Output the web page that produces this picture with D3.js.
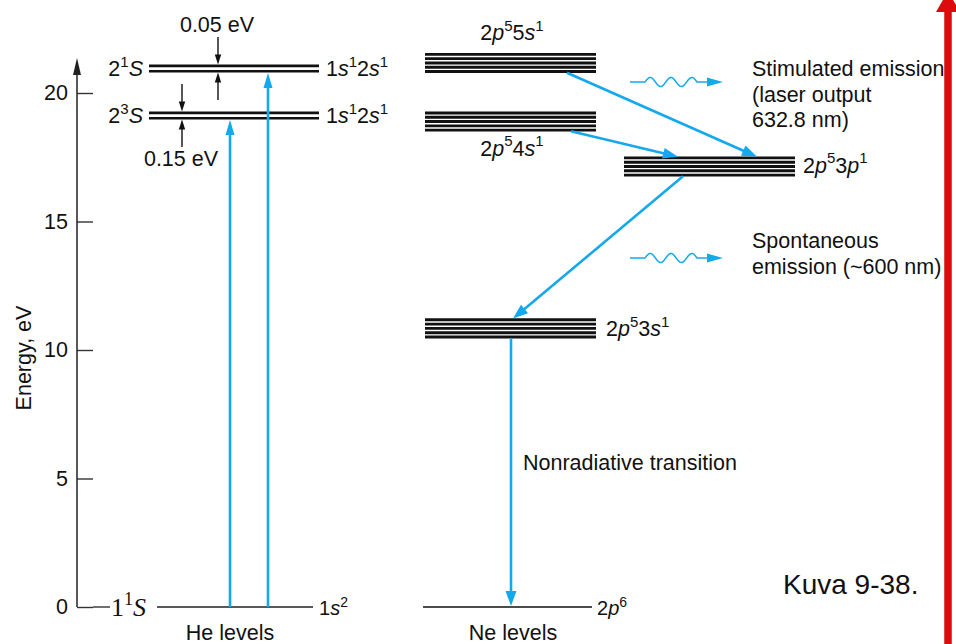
<!DOCTYPE html>
<html>
<head>
<meta charset="utf-8">
<script src="https://cdn.jsdelivr.net/npm/d3@7"></script>
<style>
  html, body { margin: 0; padding: 0; background: #fff; }
  svg { display: block; }
</style>
</head>
<body>
<svg id="chart" width="956" height="644"></svg>
<script>
// ---------------- data ----------------
const energyTicks = [0, 5, 10, 15, 20];
const heStates    = ["1<sup>1</sup><i>S</i>", "2<sup>3</sup><i>S</i>", "2<sup>1</sup><i>S</i>"];
const heConfigs   = ["1<i>s</i><sup>2</sup>", "1<i>s</i><sup>1</sup>2<i>s</i><sup>1</sup>", "1<i>s</i><sup>1</sup>2<i>s</i><sup>1</sup>"];
const heEnergies  = [0, 19.12, 20.95];
const neConfigs   = ["2<i>p</i><sup>6</sup>", "2<i>p</i><sup>5</sup>3<i>s</i><sup>1</sup>", "2<i>p</i><sup>5</sup>3<i>p</i><sup>1</sup>",
                     "2<i>p</i><sup>5</sup>4<i>s</i><sup>1</sup>", "2<i>p</i><sup>5</sup>5<i>s</i><sup>1</sup>"];
const neEnergies  = [0, 10.84, 17.14, 18.89, 21.17];
const hePumping   = [[0, 1], [0, 2]];               // indices into He levels
const neTransitions = [[4, 2], [3, 2], [2, 1], [1, 0]]; // indices into Ne levels
const gapLabels   = ["0.05 eV", "0.15 eV"];
const emissionTexts = [["Stimulated emission", "(laser output", "632.8 nm)"],
                       ["Spontaneous", "emission (~600 nm)"]];
const footerTexts = ["He levels", "Ne levels"];
const captionText = "Kuva 9-38.";
const axisTitle = "Energy, eV";
const nonradText = "Nonradiative transition";

// ---------------- layout ----------------
const svg = d3.select("#chart");
const SANS = "'Liberation Sans', Arial, Helvetica, sans-serif";
const SERIF = "'Liberation Serif', 'Times New Roman', serif";
const FS = 21.5;
const BLUE = "#14a9ec";
const y = d3.scaleLinear().domain([0, 20]).range([607, 93]);
const axisX = 77;

function rich(sel, str, size) {
  const tokens = str.match(/<sup>.*?<\/sup>|<i>.*?<\/i>|[^<]+/g);
  let raised = false;
  const shift = size * 0.42;
  tokens.forEach(t => {
    const ts = sel.append("tspan");
    if (t.startsWith("<sup>")) {
      ts.text(t.slice(5, -6)).attr("font-size", size * 0.7).attr("dy", -shift);
      raised = true;
    } else {
      if (raised) { ts.attr("dy", shift); raised = false; }
      if (t.startsWith("<i>")) ts.text(t.slice(3, -4)).attr("font-style", "italic");
      else ts.text(t);
    }
  });
  return sel;
}
function label(x, yb, str, opts = {}) {
  const t = svg.append("text").attr("x", x).attr("y", yb)
    .attr("font-family", opts.family || SANS)
    .attr("font-size", opts.size || FS)
    .attr("fill", "#111")
    .attr("text-anchor", opts.anchor || "start");
  return rich(t, str, opts.size || FS);
}
function arrow(x1, y1, x2, y2, color, w, hl, hw) {
  const dx = x2 - x1, dy = y2 - y1, L = Math.hypot(dx, dy);
  const ux = dx / L, uy = dy / L;
  const bx = x2 - ux * hl, by = y2 - uy * hl;
  svg.append("line").attr("x1", x1).attr("y1", y1).attr("x2", bx + ux * 2).attr("y2", by + uy * 2)
    .attr("stroke", color).attr("stroke-width", w);
  svg.append("polygon")
    .attr("points", [[x2, y2], [bx - uy * hw, by + ux * hw], [bx + uy * hw, by - ux * hw]].map(p => p.join(",")).join(" "))
    .attr("fill", color);
}

// ---------------- axis ----------------
const axis = d3.axisLeft(y).tickValues(energyTicks).tickSizeInner(-16).tickSizeOuter(0).tickPadding(9);
const gAxis = svg.append("g").attr("transform", `translate(${axisX},0)`).call(axis);
gAxis.select(".domain").remove();
gAxis.selectAll(".tick line").attr("stroke", "#333").attr("stroke-width", 1.4);
gAxis.selectAll(".tick text").attr("font-family", SANS).attr("font-size", FS).attr("fill", "#111");
// axis line with arrow head
arrow(axisX, y(0), axisX, y(21.36), "#222", 1.5, 17, 4);
svg.append("text").attr("transform", `translate(31,${358}) rotate(-90)`)
  .attr("text-anchor", "middle").attr("font-family", SANS).attr("font-size", FS).attr("fill", "#111")
  .text(axisTitle);

// ---------------- He levels ----------------
// ground state
svg.append("line").attr("x1", axisX + 16).attr("x2", 110).attr("y1", y(heEnergies[0])).attr("y2", y(heEnergies[0]))
  .attr("stroke", "#333").attr("stroke-width", 1.4);
label(111, y(heEnergies[0]) + 9, heStates[0], { family: SERIF, size: 26 });
svg.append("line").attr("x1", 157).attr("x2", 313).attr("y1", y(heEnergies[0])).attr("y2", y(heEnergies[0]))
  .attr("stroke", "#222").attr("stroke-width", 1.4);
label(319, y(heEnergies[0]) + 8, heConfigs[0], { size: 20 });
// excited (double lines)
heEnergies.slice(1).forEach((e, i) => {
  [-2.7, 2.7].forEach(o => {
    svg.append("line").attr("x1", 149).attr("x2", 319).attr("y1", y(e) + o).attr("y2", y(e) + o)
      .attr("stroke", "#111").attr("stroke-width", 2.6);
  });
  label(143, y(e) + 7.5, heStates[i + 1], { anchor: "end" });
  label(326, y(e) + 7.5, heConfigs[i + 1]);
});
// pumping arrows
const pumpX = [230, 268];
hePumping.forEach(([a, b], i) => {
  arrow(pumpX[i], y(heEnergies[a]), pumpX[i], y(heEnergies[b]) + 4.4, BLUE, 2.6, 15, 4.5);
});
// gap annotations
const e21 = heEnergies[2], e23 = heEnergies[1];
arrow(218, 37, 218, y(e21) - 4, "#111", 1.4, 10, 3.2);
arrow(218, 100, 218, y(e21) + 4, "#111", 1.4, 10, 3.2);
label(217, 32, gapLabels[0], { anchor: "middle" });
arrow(182, 84, 182, y(e23) - 4, "#111", 1.4, 10, 3.2);
arrow(182, 147, 182, y(e23) + 4, "#111", 1.4, 10, 3.2);
label(181, 166, gapLabels[1], { anchor: "middle" });

// ---------------- Ne levels ----------------
const neSpan = [[423, 592], [425, 596], [624, 795], [425, 596], [425, 596]];
neEnergies.forEach((e, i) => {
  const [x1, x2] = neSpan[i];
  const offs = i === 0 ? [0] : [-8.6, -4.3, 0, 4.3, 8.6];
  offs.forEach(o => {
    svg.append("line").attr("x1", x1).attr("x2", x2).attr("y1", y(e) + o).attr("y2", y(e) + o)
      .attr("stroke", "#111").attr("stroke-width", i === 0 ? 1.4 : 2.9);
  });
});
label(597, y(neEnergies[0]) + 8, neConfigs[0], { size: 20 });
label(606, y(neEnergies[1]) + 7.5, neConfigs[1]);
label(803, y(neEnergies[2]) + 6, neConfigs[2]);
label(512, y(neEnergies[3]) + 34, neConfigs[3], { anchor: "middle" });
label(512, y(neEnergies[4]) - 23, neConfigs[4], { anchor: "middle" });

// Ne transition arrows (start x, end x)
const neArrowX = [[567, 757], [571, 678], [683, 513], [511, 511]];
neTransitions.forEach(([a, b], i) => {
  const [xs, xe] = neArrowX[i];
  const ys = y(neEnergies[a]) + 9.8;
  const ye = b === 0 ? y(neEnergies[b]) - 1 : y(neEnergies[b]) - 9.8;
  arrow(xs, ys, xe, ye, BLUE, 2.6, 15, 5.5);
});

// wavy photon arrows
const waveYs = [82, 258];
waveYs.forEach((wy, k) => {
  const pts = [[630, wy], [645, wy]];
  for (let x = 645; x <= 697; x += 0.5) pts.push([x, wy - 4.5 * Math.sin(2 * Math.PI * (x - 645) / 20.8)]);
  pts.push([709, wy]);
  svg.append("path").attr("d", d3.line()(pts)).attr("fill", "none").attr("stroke", BLUE).attr("stroke-width", 1.5);
  svg.append("polygon").attr("points", `723,${wy} 707,${wy - 4.5} 707,${wy + 4.5}`).attr("fill", BLUE);
  const lines = emissionTexts[k];
  const top = k === 0 ? 76 : 248;
  lines.forEach((s, j) => {
    svg.append("text").attr("x", 752).attr("y", top + j * 25.5).attr("font-family", SANS)
      .attr("font-size", FS).attr("fill", "#111").text(s);
  });
});
svg.append("text").attr("x", 523).attr("y", 470).attr("font-family", SANS).attr("font-size", FS)
  .attr("fill", "#111").text(nonradText);

// footer labels
svg.append("text").attr("x", 230).attr("y", 640).attr("text-anchor", "middle").attr("font-family", SANS)
  .attr("font-size", FS).attr("fill", "#111").text(footerTexts[0]);
svg.append("text").attr("x", 513).attr("y", 640).attr("text-anchor", "middle").attr("font-family", SANS)
  .attr("font-size", FS).attr("fill", "#111").text(footerTexts[1]);
svg.append("text").attr("x", 783).attr("y", 594).attr("font-family", SANS).attr("font-size", 28)
  .attr("fill", "#111").text(captionText);

// red arrow at right edge
svg.append("line").attr("x1", 948).attr("x2", 948).attr("y1", 644).attr("y2", 8)
  .attr("stroke", "#dd0b0b").attr("stroke-width", 7.5);
svg.append("polygon").attr("points", "948,-9 936,12 960,12").attr("fill", "#dd0b0b");
</script>
</body>
</html>
